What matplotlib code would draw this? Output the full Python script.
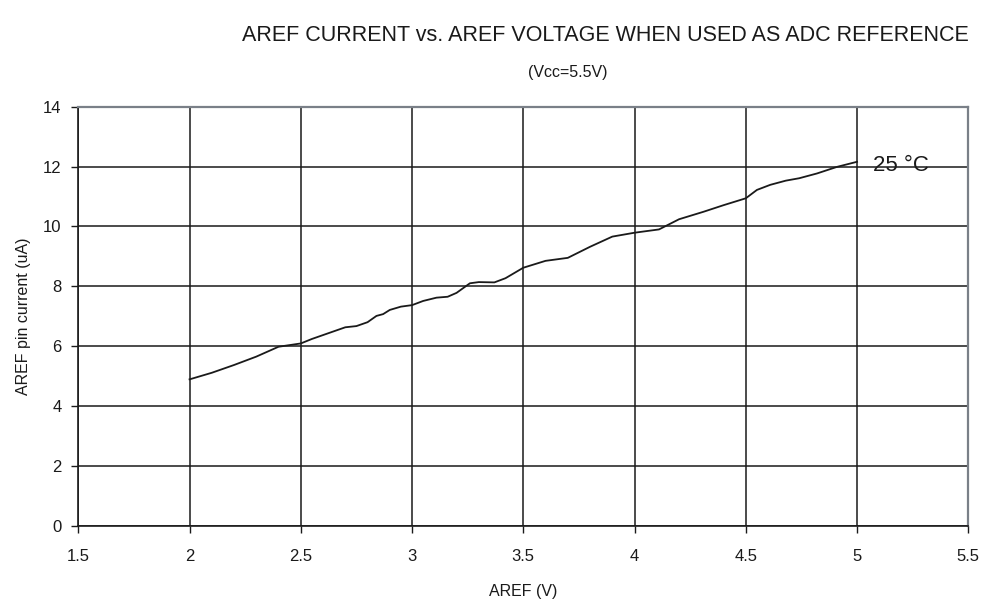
import matplotlib
matplotlib.use("Agg")
import matplotlib.pyplot as plt

plt.rcParams['font.family'] = ['Liberation Sans', 'DejaVu Sans']

# AREF voltage (V) and pin current (uA)
aref_v = [2.00, 2.10, 2.20, 2.30, 2.40, 2.50, 2.55, 2.60, 2.70, 2.75, 2.80, 2.84,
          2.87, 2.90, 2.95, 3.00, 3.05, 3.11, 3.16, 3.20, 3.26, 3.30, 3.37, 3.42,
          3.50, 3.60, 3.70, 3.80, 3.90, 4.00, 4.11, 4.20, 4.31, 4.40, 4.50, 4.55,
          4.61, 4.68, 4.74, 4.82, 4.91, 5.00]
aref_ua = [4.89, 5.11, 5.37, 5.65, 5.98, 6.09, 6.24, 6.37, 6.63, 6.67, 6.80, 7.01,
           7.07, 7.21, 7.32, 7.37, 7.51, 7.62, 7.65, 7.78, 8.10, 8.14, 8.13, 8.27,
           8.62, 8.85, 8.95, 9.32, 9.66, 9.79, 9.90, 10.24, 10.49, 10.71, 10.94, 11.22,
           11.39, 11.53, 11.61, 11.77, 11.99, 12.16]

x_ticks = [1.5, 2, 2.5, 3, 3.5, 4, 4.5, 5, 5.5]
x_labels = ['1.5', '2', '2.5', '3', '3.5', '4', '4.5', '5', '5.5']
y_ticks = [0, 2, 4, 6, 8, 10, 12, 14]

fig = plt.figure(figsize=(10, 6.06), dpi=100)
ax = fig.add_axes([0.0783, 0.1325, 0.8900, 0.6914])

ax.plot(aref_v, aref_ua, color='#1a1a1a', lw=1.3, zorder=3)
ax.text(5.07, 12.05, '25 °C', fontsize=16, va='center', ha='left', color='#1a1a1a')

ax.set_xlim(1.5, 5.5)
ax.set_ylim(0, 14)
ax.set_xticks(x_ticks)
ax.set_xticklabels(x_labels)
ax.set_yticks(y_ticks)
ax.grid(True, color='#1a1a1a', lw=1.1)
ax.set_axisbelow(True)

for side in ['left', 'bottom']:
    ax.spines[side].set_color('#1a1a1a')
    ax.spines[side].set_linewidth(1.2)
for side in ['top', 'right']:
    ax.spines[side].set_color('#7a8088')
    ax.spines[side].set_linewidth(1.6)

ax.tick_params(axis='both', direction='out', length=5, width=1, color='#1a1a1a',
               labelsize=12, labelcolor='#1a1a1a')
ax.tick_params(axis='x', pad=12)
ax.tick_params(axis='y', pad=7)

ax.set_xlabel('AREF (V)', fontsize=11.5, color='#1a1a1a', labelpad=14)
ax.set_ylabel('AREF pin current (uA)', fontsize=11.5, color='#1a1a1a', labelpad=9)

fig.text(0.605, 0.942, 'AREF CURRENT vs. AREF VOLTAGE WHEN USED AS ADC REFERENCE',
         fontsize=15.5, ha='center', va='center', color='#1a1a1a')
fig.text(0.568, 0.880, '(Vcc=5.5V)', fontsize=11.5, ha='center', va='center', color='#1a1a1a')

fig.savefig('out.png', dpi=100, facecolor='white')
